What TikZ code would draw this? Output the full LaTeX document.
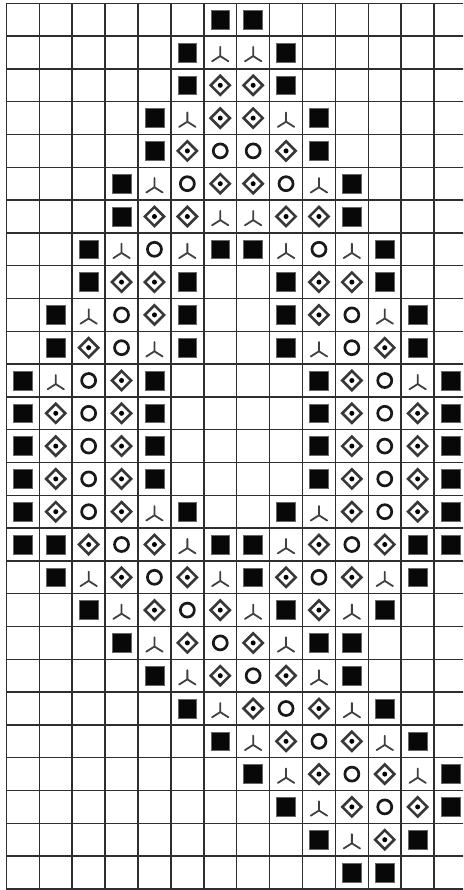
\documentclass[tikz,border=0pt]{standalone}
\usetikzlibrary{calc}
\tikzset{
  x=1pt,y=1pt,
  gridline/.style={line width=1.5pt,draw=black!82},
  pics/kE/.style={code={}},
  pics/kS/.style={code={\fill[black!97,draw=black!60,line width=0.6pt] (-9.4,-9.4) rectangle (9.4,9.4);}},
  pics/kY/.style={code={\draw[line width=1.8pt,black!75,line cap=round,line join=round] (0,5.6)--(0,-3.6) (-8.2,-8.8)--(0,-3.6)--(8.2,-8.8);}},
  pics/kD/.style={code={\draw[line width=2.6pt,black!78] (0,9.6)--(9.6,0)--(0,-9.6)--(-9.6,0)--cycle; \fill[black] (0,0) circle (2.5);}},
  pics/kO/.style={code={\draw[line width=2.7pt,black!90] (0,0) circle (7.0);}}
}
\begin{document}
\begin{tikzpicture}
\useasboundingbox (0,0) rectangle (463,-890);
\clip (0,0) rectangle (463,-890);
\fill[white] (0,0) rectangle (463,-890);
\def\xo{6.4}\def\yo{3.3}\def\cw{32.9}\def\ch{32.8}
% symbols
\foreach \row [count=\r] in {
 {E,E,E,E,E,E,S,S,E,E,E,E,E,E},
 {E,E,E,E,E,S,Y,Y,S,E,E,E,E,E},
 {E,E,E,E,E,S,D,D,S,E,E,E,E,E},
 {E,E,E,E,S,Y,D,D,Y,S,E,E,E,E},
 {E,E,E,E,S,D,O,O,D,S,E,E,E,E},
 {E,E,E,S,Y,O,D,D,O,Y,S,E,E,E},
 {E,E,E,S,D,D,Y,Y,D,D,S,E,E,E},
 {E,E,S,Y,O,Y,S,S,Y,O,Y,S,E,E},
 {E,E,S,D,D,S,E,E,S,D,D,S,E,E},
 {E,S,Y,O,D,S,E,E,S,D,O,Y,S,E},
 {E,S,D,O,Y,S,E,E,S,Y,O,D,S,E},
 {S,Y,O,D,S,E,E,E,E,S,D,O,Y,S},
 {S,D,O,D,S,E,E,E,E,S,D,O,D,S},
 {S,D,O,D,S,E,E,E,E,S,D,O,D,S},
 {S,D,O,D,S,E,E,E,E,S,D,O,D,S},
 {S,D,O,D,Y,S,E,E,S,Y,D,O,D,S},
 {S,S,D,O,D,Y,S,S,Y,D,O,D,S,S},
 {E,S,Y,D,O,D,Y,S,D,O,D,Y,S,E},
 {E,E,S,Y,D,O,D,Y,S,D,Y,S,E,E},
 {E,E,E,S,Y,D,O,D,Y,S,S,E,E,E},
 {E,E,E,E,S,Y,D,O,D,Y,S,E,E,E},
 {E,E,E,E,E,S,Y,D,O,D,Y,S,E,E},
 {E,E,E,E,E,E,S,Y,D,O,D,Y,S,E},
 {E,E,E,E,E,E,E,S,Y,D,O,D,Y,S},
 {E,E,E,E,E,E,E,E,S,Y,D,O,D,S},
 {E,E,E,E,E,E,E,E,E,S,Y,D,S,E},
 {E,E,E,E,E,E,E,E,E,E,S,S,E,E}} {
  \foreach \s [count=\c] in \row {
    \pic at ({\xo+\cw*(\c-0.5)},{-(\yo+\ch*(\r-0.5))}) {k\s};
  }
}
% grid
\foreach \i in {0,...,14} \draw[gridline] ({\xo+\cw*\i},{-\yo}) -- ({\xo+\cw*\i},{-(\yo+27*\ch)});
\foreach \j in {0,...,27} \draw[gridline] ({\xo},{-(\yo+\ch*\j)}) -- ({\xo+14*\cw},{-(\yo+\ch*\j)});
\end{tikzpicture}
\end{document}
